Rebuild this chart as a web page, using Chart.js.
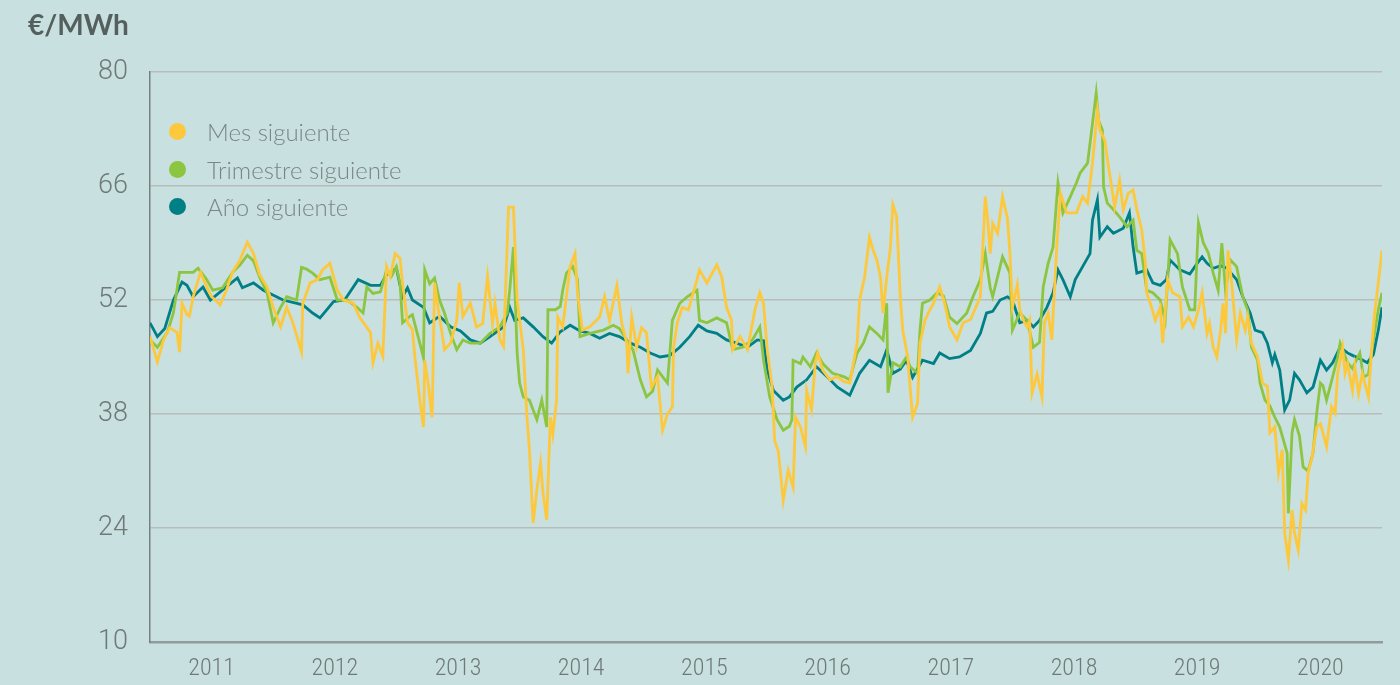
<!DOCTYPE html>
<html lang="es">
<head>
<meta charset="utf-8">
<title>Precios a plazo de electricidad</title>
<script src="https://cdn.jsdelivr.net/npm/chart.js@4.4.1/dist/chart.umd.min.js"></script>
<style>
    html, body { margin: 0; padding: 0; background: #c8e0df; }
    #wrap { position: relative; width: 1400px; height: 685px; background: #c8e0df; overflow: hidden; }
    #unit { position: absolute; left: 28px; top: 9px; font: 700 28px Lato, 'Open Sans', sans-serif; color: #545f5e; line-height: 30px; }
    #legend { position: absolute; left: 169px; top: 113px; }
    #legend .row { display: flex; align-items: center; height: 37.5px; }
    #legend .dot { width: 17px; height: 17px; border-radius: 50%; margin-right: 21px; }
    #legend .txt { font: 300 24px Lato, 'Open Sans', sans-serif; color: #7a8584; }
</style>
</head>
<body>
<div id="wrap">
    <canvas id="forward-chart" width="1400" height="685"></canvas>
    <div id="unit">€/MWh</div>
    <div id="legend"></div>
</div>
<script>
// Fechas en años decimales, precios en €/MWh
const yearLabels = [2011, 2012, 2013, 2014, 2015, 2016, 2017, 2018, 2019, 2020];
const yTicks = [10, 24, 38, 52, 66, 80];
const seriesNames = ['Mes siguiente', 'Trimestre siguiente', 'Año siguiente'];

const mesFechas = [2011.00, 2011.06, 2011.11, 2011.16, 2011.22, 2011.24, 2011.26, 2011.30, 2011.32, 2011.35, 2011.41, 2011.46, 2011.50, 2011.57, 2011.62, 2011.67, 2011.73, 2011.79, 2011.84, 2011.89, 2011.95,
    2012.00, 2012.06, 2012.11, 2012.16, 2012.23, 2012.24, 2012.30, 2012.36, 2012.40, 2012.46, 2012.52, 2012.57, 2012.65, 2012.70, 2012.79, 2012.81, 2012.85, 2012.89, 2012.92, 2012.95, 2012.99,
    2013.03, 2013.05, 2013.09, 2013.13, 2013.15, 2013.19, 2013.22, 2013.23, 2013.26, 2013.29, 2013.31, 2013.34, 2013.37, 2013.39, 2013.44, 2013.49, 2013.51, 2013.54, 2013.60, 2013.65, 2013.70, 2013.74, 2013.78, 2013.80, 2013.84, 2013.87, 2013.91, 2013.95, 2013.98,
    2014.03, 2014.06, 2014.08, 2014.11, 2014.14, 2014.17, 2014.19, 2014.22, 2014.25, 2014.27, 2014.30, 2014.31, 2014.35, 2014.41, 2014.45, 2014.47, 2014.51, 2014.57, 2014.65, 2014.69, 2014.73, 2014.79, 2014.83, 2014.87, 2014.88, 2014.91, 2014.95, 2014.99,
    2015.03, 2015.07, 2015.12, 2015.16, 2015.20, 2015.24, 2015.25, 2015.28, 2015.32, 2015.37, 2015.44, 2015.46, 2015.52, 2015.60, 2015.64, 2015.68, 2015.72, 2015.73, 2015.79, 2015.85, 2015.91, 2015.95, 2015.98,
    2016.01, 2016.05, 2016.07, 2016.10, 2016.14, 2016.18, 2016.22, 2016.24, 2016.28, 2016.32, 2016.33, 2016.37, 2016.40, 2016.42, 2016.46, 2016.52, 2016.58, 2016.63, 2016.68, 2016.74, 2016.76, 2016.80, 2016.84, 2016.87, 2016.90, 2016.93, 2016.95, 2016.98,
    2017.01, 2017.03, 2017.06, 2017.09, 2017.11, 2017.15, 2017.19, 2017.23, 2017.25, 2017.29, 2017.33, 2017.36, 2017.41, 2017.45, 2017.49, 2017.55, 2017.60, 2017.66, 2017.74, 2017.78, 2017.80, 2017.82, 2017.84, 2017.88, 2017.92, 2017.96, 2017.98,
    2018.00, 2018.04, 2018.06, 2018.09, 2018.12, 2018.14, 2018.16, 2018.20, 2018.24, 2018.26, 2018.29, 2018.32, 2018.36, 2018.39, 2018.44, 2018.52, 2018.57, 2018.61, 2018.65, 2018.69, 2018.71, 2018.75, 2018.78, 2018.81, 2018.83, 2018.87, 2018.90, 2018.94, 2018.98,
    2019.01, 2019.05, 2019.08, 2019.09, 2019.13, 2019.16, 2019.20, 2019.22, 2019.26, 2019.30, 2019.36, 2019.38, 2019.43, 2019.47, 2019.51, 2019.54, 2019.58, 2019.60, 2019.63, 2019.66, 2019.69, 2019.71, 2019.73, 2019.75, 2019.78, 2019.82, 2019.85, 2019.89, 2019.91, 2019.94, 2019.99,
    2020.03, 2020.07, 2020.09, 2020.13, 2020.16, 2020.19, 2020.21, 2020.24, 2020.27, 2020.29, 2020.32, 2020.35, 2020.38, 2020.40, 2020.43, 2020.47, 2020.50, 2020.52, 2020.55, 2020.59, 2020.62, 2020.64, 2020.68, 2020.70, 2020.72, 2020.76, 2020.78, 2020.81, 2020.84, 2020.86, 2020.89, 2020.92, 2020.94, 2020.97, 2021.00];
const mesValores = [47.5, 44.4, 47.1, 48.6, 48, 45.6, 51.6, 50.2, 50, 52.4, 55.4, 53.6, 52.4, 51.4, 53.2, 55.4, 56.9, 59.1, 57.7, 55.1, 53.6,
    51.1, 48.7, 51.1, 49.2, 45.6, 51.6, 54.1, 54.5, 55.7, 56.5, 53.2, 52, 51.6, 49.9, 48, 44.3, 46.7, 45.1, 56.1, 54.9, 57.7,
    57.1, 54, 49.2, 48.4, 45, 39.7, 36.4, 44.6, 41.5, 37.6, 54.1, 50.8, 48, 45.9, 46.7, 49.5, 54.1, 50, 51.6, 48.7, 49.1, 54.9, 49.1, 51.6, 47.1, 46.3, 63.4, 63.4, 52,
    45.9, 37.6, 33.6, 24.6, 28.7, 32, 28.3, 25, 37.6, 35.5, 39.7, 49.9, 48.7, 56.1, 57.7, 52.8, 48.3, 48.7, 49.9, 52.4, 49.5, 53.8, 49.1, 46.7, 43, 49.9, 46.2, 48.6,
    48, 41.3, 42.6, 36, 38, 38.9, 46.2, 49.2, 51.1, 50.8, 54.5, 55.7, 54.1, 56.3, 54.9, 51.1, 49.5, 45.9, 47.5, 45.9, 50.8, 52.9, 51.6,
    45.9, 41.3, 34.8, 33.4, 27.4, 31.1, 29, 37.6, 36.4, 34, 40.9, 38.5, 44.3, 45.5, 43.4, 42.2, 42.6, 42, 41.8, 46.7, 52, 54.8, 59.7, 58.1, 56.9, 54.8, 50.4, 54.8,
    58.5, 63.7, 62.3, 52.4, 48.3, 45, 37.6, 39.3, 46.7, 49.5, 50.8, 51.6, 53.6, 51.6, 48.7, 47.1, 49.2, 49.6, 52.4, 64.7, 61.8, 57.7, 61.4, 60.2, 64.7, 62, 57.7,
    51.1, 53.9, 50.8, 49.5, 48.7, 49.5, 40.6, 42.9, 40.1, 49.2, 50.4, 47.1, 58.5, 65.1, 62.7, 62.7, 64.7, 63.9, 68.8, 75.3, 72.9, 71.6, 68.4, 65.5, 63.4, 66.7, 63.1, 65.1, 65.5,
    63.1, 60.6, 56.5, 52.9, 51.1, 49.5, 51.1, 46.7, 54.5, 52.9, 52.4, 48.7, 49.9, 48.7, 50.8, 52.9, 47.9, 49.1, 46.2, 45, 48.3, 51.6, 47.9, 58.1, 54, 47.1, 50.4, 48.3, 49.9, 46.7, 45,
    41.8, 41.4, 35.7, 36.4, 30.8, 33.6, 23.4, 20.1, 26.2, 23.4, 21.3, 27, 26.2, 30.8, 32.5, 36.4, 36.8, 35.7, 34, 38.9, 38.1, 43, 46.2, 43, 44.2, 40.9, 43.8, 40.5, 43, 41.8, 40.1, 46.7, 50.4, 54.1, 58.1];

const trimFechas = [2011.00, 2011.06, 2011.14, 2011.19, 2011.24, 2011.35, 2011.39, 2011.46, 2011.51, 2011.59, 2011.67, 2011.73, 2011.79, 2011.84, 2011.89, 2011.95,
    2012.00, 2012.06, 2012.11, 2012.19, 2012.23, 2012.27, 2012.32, 2012.38, 2012.46, 2012.52, 2012.60, 2012.68, 2012.73, 2012.76, 2012.81, 2012.87, 2012.92, 2012.96,
    2013.00, 2013.03, 2013.05, 2013.11, 2013.13, 2013.19, 2013.22, 2013.23, 2013.27, 2013.31, 2013.35, 2013.39, 2013.44, 2013.49, 2013.54, 2013.60, 2013.68, 2013.76, 2013.84, 2013.90, 2013.92, 2013.95, 2013.98,
    2014.00, 2014.03, 2014.08, 2014.14, 2014.18, 2014.22, 2014.23, 2014.29, 2014.33, 2014.35, 2014.38, 2014.43, 2014.47, 2014.49, 2014.57, 2014.68, 2014.76, 2014.81, 2014.87, 2014.92, 2014.98,
    2015.03, 2015.08, 2015.12, 2015.16, 2015.20, 2015.24, 2015.30, 2015.36, 2015.44, 2015.46, 2015.52, 2015.60, 2015.68, 2015.73, 2015.81, 2015.89, 2015.95, 2015.98,
    2016.03, 2016.09, 2016.14, 2016.19, 2016.21, 2016.22, 2016.28, 2016.30, 2016.36, 2016.41, 2016.46, 2016.54, 2016.63, 2016.68, 2016.74, 2016.79, 2016.84, 2016.90, 2016.95, 2016.98, 2016.99,
    2017.03, 2017.09, 2017.14, 2017.17, 2017.23, 2017.25, 2017.27, 2017.33, 2017.39, 2017.44, 2017.49, 2017.55, 2017.63, 2017.68, 2017.74, 2017.78, 2017.82, 2017.84, 2017.90, 2017.92, 2017.98,
    2018.00, 2018.06, 2018.12, 2018.17, 2018.22, 2018.25, 2018.29, 2018.33, 2018.37, 2018.41, 2018.47, 2018.52, 2018.55, 2018.61, 2018.65, 2018.68, 2018.70, 2018.73, 2018.74, 2018.77, 2018.82, 2018.87, 2018.93, 2018.98,
    2019.01, 2019.05, 2019.09, 2019.14, 2019.20, 2019.24, 2019.28, 2019.34, 2019.38, 2019.44, 2019.48, 2019.51, 2019.55, 2019.59, 2019.63, 2019.67, 2019.70, 2019.73, 2019.77, 2019.82, 2019.87, 2019.91, 2019.94, 2019.99,
    2020.01, 2020.05, 2020.09, 2020.13, 2020.17, 2020.23, 2020.24, 2020.27, 2020.29, 2020.33, 2020.36, 2020.40, 2020.44, 2020.47, 2020.50, 2020.52, 2020.55, 2020.59, 2020.64, 2020.66, 2020.72, 2020.76, 2020.82, 2020.85, 2020.89, 2020.93, 2020.97, 2021.00];
const trimValores = [47.1, 46.2, 48, 50.4, 55.4, 55.4, 55.9, 54.5, 53.2, 53.5, 55.4, 56.3, 57.5, 56.8, 54.8, 52.9,
    49.2, 51.1, 52.4, 52, 56, 55.8, 55.3, 54.5, 54.8, 52, 52, 51.1, 50.4, 53.6, 52.8, 53, 55.7, 54.9,
    56.1, 54, 49.2, 50, 50.2, 46.7, 44.9, 55.7, 54, 54.7, 52, 50.4, 47.9, 45.9, 47.1, 46.7, 46.7, 47.9, 48.7, 50.4, 53.2, 58.5, 45.5,
    41.8, 40.1, 39.7, 37.3, 39.7, 36.4, 50.8, 50.8, 51.2, 53.2, 55.3, 56.1, 54.5, 47.5, 47.9, 48.3, 48.9, 48.5, 47.1, 45.9, 42.2,
    40.1, 40.8, 43.4, 42.6, 41.8, 49.5, 51.6, 52.4, 53.2, 49.5, 49.2, 49.8, 49.2, 45.9, 46.2, 47.1, 48.7, 44.6,
    40.1, 37.3, 36, 36.5, 37.3, 44.6, 44.2, 45, 43.8, 45.5, 44.2, 43, 42.6, 42.2, 45.5, 46.7, 48.7, 47.9, 47.1, 51.6, 40.6,
    44.3, 43.8, 45, 43.8, 43, 48.3, 51.6, 52, 52.9, 52.5, 49.9, 49.1, 50.4, 52.4, 54.5, 57.7, 53.5, 52.4, 56.1, 57.3, 55.3,
    48.3, 50.4, 49.5, 46.2, 46.8, 53.6, 56.5, 58.5, 66.4, 62.7, 64.7, 66.4, 67.6, 68.8, 73.7, 77.4, 74, 72.9, 65.9, 63.9, 63.1, 62.2, 61, 61.8,
    58.1, 57.7, 53.2, 52.9, 52, 49.5, 59.4, 57.7, 53.6, 50.8, 50.8, 61.5, 59, 57.8, 55.3, 53.2, 59, 53.2, 56.9, 56.1, 52.4, 50.8, 46.2, 44.6,
    41.8, 39.7, 39, 37.6, 36.4, 33.2, 25.8, 35.7, 37.3, 35.3, 31.5, 31, 33.2, 38.1, 41.8, 41.5, 39.7, 42, 45, 46.7, 44.3, 43.6, 45.5, 42.5, 42.9, 47.1, 50.8, 52.9];

const anoFechas = [2011.00, 2011.06, 2011.12, 2011.19, 2011.26, 2011.30, 2011.35, 2011.43, 2011.49, 2011.57, 2011.71, 2011.75, 2011.84, 2011.92,
    2012.08, 2012.24, 2012.32, 2012.38, 2012.49, 2012.58, 2012.69, 2012.79, 2012.87, 2012.92,
    2013.00, 2013.05, 2013.09, 2013.13, 2013.22, 2013.27, 2013.35, 2013.44, 2013.52, 2013.60, 2013.68, 2013.76, 2013.87, 2013.92, 2013.96,
    2014.03, 2014.11, 2014.19, 2014.26, 2014.33, 2014.41, 2014.49, 2014.57, 2014.65, 2014.73, 2014.81, 2014.90, 2014.98,
    2015.06, 2015.14, 2015.22, 2015.30, 2015.38, 2015.45, 2015.52, 2015.60, 2015.68, 2015.76, 2015.85, 2015.93, 2015.98,
    2016.01, 2016.06, 2016.14, 2016.19, 2016.25, 2016.33, 2016.41, 2016.50, 2016.58, 2016.68, 2016.76, 2016.84, 2016.93, 2016.98,
    2017.03, 2017.09, 2017.14, 2017.19, 2017.27, 2017.36, 2017.41, 2017.49, 2017.57, 2017.66, 2017.74, 2017.79, 2017.84, 2017.90, 2017.96,
    2018.00, 2018.06, 2018.12, 2018.17, 2018.22, 2018.28, 2018.33, 2018.37, 2018.41, 2018.47, 2018.51, 2018.57, 2018.63, 2018.65, 2018.69, 2018.71, 2018.77, 2018.82, 2018.90, 2018.95, 2018.98,
    2019.01, 2019.09, 2019.14, 2019.20, 2019.25, 2019.28, 2019.36, 2019.44, 2019.50, 2019.54, 2019.58, 2019.63, 2019.69, 2019.74, 2019.82, 2019.87, 2019.93, 2019.97,
    2020.03, 2020.07, 2020.11, 2020.13, 2020.17, 2020.21, 2020.25, 2020.29, 2020.33, 2020.39, 2020.44, 2020.50, 2020.55, 2020.60, 2020.66, 2020.72, 2020.76, 2020.82, 2020.88, 2020.93, 2020.97, 2021.00];
const anoValores = [49.2, 47.5, 48.5, 52, 54.2, 53.8, 52.4, 53.6, 52, 53, 54.7, 53.5, 54.1, 53.2,
    52, 51.4, 50.4, 49.8, 51.8, 52, 54.5, 53.8, 53.8, 55.1,
    55.9, 52.4, 53.5, 52, 51.1, 49.2, 50, 48.7, 48.2, 47.1, 46.7, 47.5, 48.7, 51.1, 49.5,
    49.8, 48.7, 47.5, 46.7, 48.1, 48.9, 48.2, 47.9, 47.3, 47.9, 47.5, 46.7, 46.2,
    45.5, 45, 45.2, 46.2, 47.5, 48.9, 48.2, 47.9, 47.1, 46.7, 46.2, 47.1, 47,
    43.4, 40.9, 39.7, 40.1, 41.3, 42.2, 43.8, 42.5, 41.3, 40.3, 43, 44.6, 43.8, 45.9,
    43, 43.5, 44.6, 42.5, 44.6, 44.2, 45.5, 44.8, 45, 45.8, 47.9, 50.4, 50.6, 52, 52.4,
    52, 49.2, 49.5, 48.7, 49.5, 51.1, 52.9, 55.7, 54.5, 52.4, 54.5, 56.1, 57.7, 61.8, 64.3, 59.7, 61, 60.2, 60.8, 62.7, 58.5,
    55.3, 55.7, 54.1, 53.8, 54.5, 56.9, 55.7, 55.2, 56.5, 57.3, 56.5, 55.9, 56.2, 55.9, 54.5, 52.4, 50.4, 48.3,
    48, 46.7, 44.3, 45.3, 43.4, 38.5, 39.7, 43, 42.2, 40.6, 41.3, 44.6, 43.4, 44.3, 46.2, 45.5, 45.2, 44.8, 44.3, 45.3, 48.3, 51.1];

document.addEventListener('DOMContentLoaded', () => {
    const dom = {
        canvas: document.getElementById('forward-chart'),
        legend: document.getElementById('legend'),
    };

    const colors = ['#fdc83c', '#8cc540', '#007f87'];
    const toPoints = (fechas, valores) => fechas.map((f, i) => ({ x: f, y: valores[i] }));

    const series = [
        toPoints(mesFechas, mesValores),
        toPoints(trimFechas, trimValores),
        toPoints(anoFechas, anoValores),
    ];

    // el primer dataset se pinta encima (amarillo sobre verde sobre azul)
    const datasets = series.map((data, i) => ({
        label: seriesNames[i],
        data,
        borderColor: colors[i],
        backgroundColor: colors[i],
        borderWidth: 2.8,
        pointRadius: 0,
        tension: 0,
        fill: false,
    }));

    const tickColor = '#6f7978';

    const chart = new Chart(dom.canvas, {
        type: 'line',
        data: { datasets },
        options: {
            responsive: false,
            animation: false,
            devicePixelRatio: 1,
            layout: { padding: { top: 72, right: 18, left: 0, bottom: 0 } },
            plugins: { legend: { display: false }, tooltip: { enabled: false } },
            scales: {
                x: {
                    type: 'linear',
                    min: 2011,
                    max: 2021,
                    grid: { display: false, drawTicks: false },
                    border: { display: true, color: '#8f9c9b', width: 2.5 },
                    afterBuildTicks: (scale) => { scale.ticks = yearLabels.map(y => ({ value: y + 0.5 })); },
                    afterFit: (scale) => { scale.height = 43; },
                    ticks: {
                        autoSkip: false,
                        maxRotation: 0,
                        padding: 13,
                        color: tickColor,
                        font: { family: "'Roboto Condensed', 'Liberation Sans Narrow', sans-serif", size: 24, weight: 300 },
                        callback: (value, index) => String(yearLabels[index]),
                    },
                },
                y: {
                    min: 10,
                    max: 80,
                    grid: { color: '#b8bdbc', lineWidth: 1.5, drawTicks: false },
                    border: { display: true, color: '#76807f', width: 1.5 },
                    afterBuildTicks: (scale) => { scale.ticks = yTicks.map(v => ({ value: v })); },
                    afterFit: (scale) => { scale.width = 150; },
                    ticks: {
                        padding: 22,
                        color: tickColor,
                        font: { family: "Roboto, 'Open Sans', sans-serif", size: 27, weight: 300 },
                    },
                },
            },
        },
    });

    // leyenda en HTML a partir de los datasets
    dom.legend.innerHTML = chart.data.datasets.map(ds =>
        `<div class="row"><span class="dot" style="background:${ds.borderColor}"></span><span class="txt">${ds.label}</span></div>`
    ).join('');
});
</script>
</body>
</html>
